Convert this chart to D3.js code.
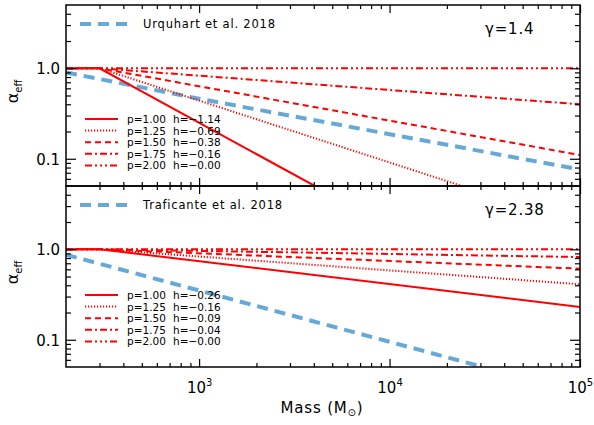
<!DOCTYPE html>
<html>
<head>
<meta charset="utf-8">
<script src="https://cdn.jsdelivr.net/npm/d3@7"></script>
<style>
  body { margin: 0; background: #fff; }
  svg text { font-family: "DejaVu Sans", sans-serif; fill: #000; }
</style>
</head>
<body>
<div id="viz"></div>
<script>
// ---- data ----
var pLabels = ["p=1.00", "p=1.25", "p=1.50", "p=1.75", "p=2.00"];
var hTop = ["h=\u22121.14", "h=\u22120.69", "h=\u22120.38", "h=\u22120.16", "h=\u22120.00"];
var hBot = ["h=\u22120.26", "h=\u22120.16", "h=\u22120.09", "h=\u22120.04", "h=\u22120.00"];

// [mass, alpha_eff] points, gamma = 1.4
var topP100 = [[200, 1.0], [300, 1.0], [4050, 0.05]];
var topP125 = [[200, 1.0], [300, 1.0], [24000, 0.05]];
var topP150 = [[200, 1.0], [300, 1.0], [100000, 0.11]];
var topP175 = [[200, 1.0], [300, 1.0], [100000, 0.40]];
var topP200 = [[200, 1.0], [100000, 1.0]];
var urquhart = [[200, 0.90], [300, 0.76], [1000, 0.46], [100000, 0.076]];

// gamma = 2.38
var botP100 = [[200, 1.0], [300, 1.0], [100000, 0.23]];
var botP125 = [[200, 1.0], [300, 1.0], [100000, 0.41]];
var botP150 = [[200, 1.0], [300, 1.0], [100000, 0.61]];
var botP175 = [[200, 1.0], [300, 1.0], [100000, 0.82]];
var botP200 = [[200, 1.0], [100000, 1.0]];
var traficante = [[200, 0.87], [1000, 0.35], [31000, 0.05]];

var xMajor = [1e3, 1e4, 1e5];
var xMinor = [300, 400, 500, 600, 700, 800, 900,
              2000, 3000, 4000, 5000, 6000, 7000, 8000, 9000,
              20000, 30000, 40000, 50000, 60000, 70000, 80000, 90000];
var yMajor = [0.1, 1.0];
var yMinor = [0.06, 0.07, 0.08, 0.09, 0.2, 0.3, 0.4, 0.5, 0.6, 0.7, 0.8, 0.9, 2, 3, 4];

// ---- layout ----
var W = 594, H = 425;
var left = 66, right = 580, top0 = 5, ph = 181;
var pw = right - left;

var styles = ["none", "1.2,1.8", "6,4", "7,3,2,3", "7,3,2,3,2,3,2,3"];
var red = "#ff0000", blue = "#67a9d6";

var svg = d3.select("#viz").append("svg")
    .attr("width", W).attr("height", H);

var x = d3.scaleLog().domain([200, 1e5]).range([0, pw]);
var y = d3.scaleLog().domain([0.05, 5]).range([ph, 0]);

var line = d3.line()
    .x(function(d){ return x(d[0]); })
    .y(function(d){ return y(d[1]); });

function panel(idx, redLines, hLabs, blueLine, blueName, gammaText, showX){
    var g = svg.append("g")
        .attr("transform", "translate(" + left + "," + (top0 + idx * ph) + ")");

    g.append("clipPath").attr("id", "clip" + idx)
      .append("rect").attr("width", pw).attr("height", ph);

    var plot = g.append("g").attr("clip-path", "url(#clip" + idx + ")");

    plot.append("path")
        .attr("d", line(blueLine))
        .attr("fill", "none")
        .attr("stroke", blue)
        .attr("stroke-width", 4)
        .attr("stroke-dasharray", "11,7");

    redLines.forEach(function(pts, i){
        plot.append("path")
            .attr("d", line(pts))
            .attr("fill", "none")
            .attr("stroke", red)
            .attr("stroke-width", 2)
            .attr("stroke-dasharray", styles[i]);
    });

    // axes, ticks pointing inward
    function ax(a, vals, size, tx, ty){
        var s = g.append("g")
            .attr("transform", "translate(" + tx + "," + ty + ")")
            .call(a.tickValues(vals).tickSizeInner(-size).tickSizeOuter(0).tickFormat(""));
        s.select(".domain").remove();
        s.selectAll("line").attr("stroke", "#000").attr("stroke-width", 1.2);
        return s;
    }
    ax(d3.axisBottom(x), xMinor, 4, 0, ph);
    var xb = ax(d3.axisBottom(x), xMajor, 8, 0, ph);
    ax(d3.axisTop(x), xMinor, 4, 0, 0);
    ax(d3.axisTop(x), xMajor, 8, 0, 0);
    ax(d3.axisLeft(y), yMinor, 5, 0, 0);
    var yl = ax(d3.axisLeft(y), yMajor, 10, 0, 0);
    ax(d3.axisRight(y), yMinor, 5, pw, 0);
    ax(d3.axisRight(y), yMajor, 10, pw, 0);

    yl.selectAll(".tick text")
        .attr("x", -6).attr("dy", "0.36em")
        .style("font-size", "15px")
        .attr("text-anchor", "end")
        .text(function(d){ return d3.format(".1f")(d); });

    if (showX){
        xb.selectAll(".tick text").each(function(d){
            var t = d3.select(this)
                .attr("y", 26).attr("dy", 0)
                .style("font-size", "15px")
                .attr("text-anchor", "middle")
                .text("");
            t.append("tspan").text("10");
            t.append("tspan").attr("dy", -7).style("font-size", "10px")
                .text(Math.round(Math.log10(d)));
        });
    }

    g.append("rect")
        .attr("width", pw).attr("height", ph)
        .attr("fill", "none").attr("stroke", "#000").attr("stroke-width", 1.5);

    // blue legend
    var by = 19;
    g.append("line")
        .attr("x1", 80 - left).attr("x2", 128 - left)
        .attr("y1", by).attr("y2", by)
        .attr("stroke", blue).attr("stroke-width", 4)
        .attr("stroke-dasharray", "11,7");
    g.append("text")
        .attr("x", 143 - left).attr("y", by + 4)
        .style("font-size", "11.5px").style("letter-spacing", "0.8px")
        .text(blueName);

    // red legend
    var ly0 = idx === 0 ? 114 : 109;
    pLabels.forEach(function(p, i){
        var yy = ly0 + i * 11.6;
        g.append("line")
            .attr("x1", 85 - left).attr("x2", 118 - left)
            .attr("y1", yy).attr("y2", yy)
            .attr("stroke", red).attr("stroke-width", 2)
            .attr("stroke-dasharray", styles[i]);
        g.append("text")
            .attr("x", 127 - left).attr("y", yy + 4)
            .style("font-size", "10.5px")
            .text(p);
        g.append("text")
            .attr("x", 173 - left).attr("y", yy + 4)
            .style("font-size", "10.5px")
            .text(hLabs[i]);
    });

    // gamma label
    g.append("text")
        .attr("x", 485 - left).attr("y", 29)
        .style("font-size", "15px").style("letter-spacing", "0.8px")
        .text(gammaText);

    // y label, rotated
    var yt = g.append("text")
        .attr("transform", "translate(" + (18 - left) + "," + (ph / 2 - 4) + ") rotate(-90)")
        .attr("text-anchor", "middle")
        .style("font-size", "16px");
    yt.append("tspan").text("\u03b1");
    yt.append("tspan").attr("dy", 4).style("font-size", "10px").text("eff");
}

panel(0, [topP100, topP125, topP150, topP175, topP200], hTop, urquhart,
      "Urquhart et al. 2018", "\u03b3=1.4", false);
panel(1, [botP100, botP125, botP150, botP175, botP200], hBot, traficante,
      "Traficante et al. 2018", "\u03b3=2.38", true);

var xt = svg.append("text")
    .attr("x", 322).attr("y", 413)
    .attr("text-anchor", "middle")
    .style("font-size", "15px").style("letter-spacing", "0.8px");
xt.append("tspan").text("Mass (M");
xt.append("tspan").attr("dy", 3).style("font-size", "10px").text("\u2299");
xt.append("tspan").attr("dy", -3).text(")");
</script>
</body>
</html>
